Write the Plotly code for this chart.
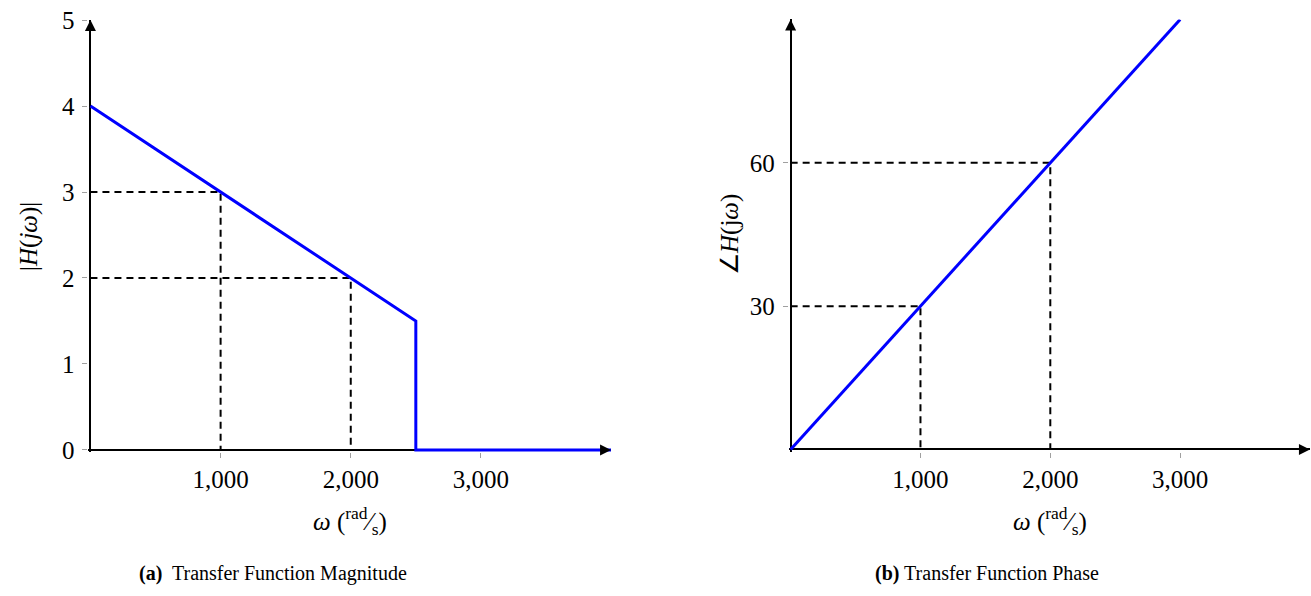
import plotly.graph_objects as go

# ---- data ----
mag_w = [0, 2500, 2500, 4000]
mag_h = [4, 1.5, 0, 0]
mag_guide_w = [1000, 2000]
mag_guide_h = [3, 2]

phase_w = [0, 3000]
phase_deg = [0, 90]
phase_guide_w = [1000, 2000]
phase_guide_deg = [30, 60]

x_range = [-15, 4000]
mag_range = [-0.025, 5]
phase_range = [-0.45, 90]
x_tickvals = [1000, 2000, 3000]
x_ticktext = ["1,000", "2,000", "3,000"]
mag_tickvals = [0, 1, 2, 3, 4, 5]
phase_tickvals = [30, 60]

FONT = "Liberation Serif"
BLUE = "#0000ff"
TICKGRAY = "#a0a0a0"
W, H = 1311, 596

fig = go.Figure()

# guides
dash_line = dict(color="black", width=2, dash="7px,5px")
for w, h in zip(mag_guide_w, mag_guide_h):
    fig.add_trace(go.Scatter(x=[0, w, w], y=[h, h, 0], mode="lines", line=dash_line,
                             xaxis="x", yaxis="y", showlegend=False, hoverinfo="skip"))
for w, d in zip(phase_guide_w, phase_guide_deg):
    fig.add_trace(go.Scatter(x=[0, w, w], y=[d, d, 0], mode="lines", line=dash_line,
                             xaxis="x2", yaxis="y2", showlegend=False, hoverinfo="skip"))

fig.add_trace(go.Scatter(x=mag_w, y=mag_h, mode="lines", line=dict(color=BLUE, width=3),
                         xaxis="x", yaxis="y", showlegend=False))
fig.add_trace(go.Scatter(x=phase_w, y=phase_deg, mode="lines", line=dict(color=BLUE, width=3),
                         xaxis="x2", yaxis="y2", showlegend=False))

# axis-end arrowheads (at the axis range ends)
for xa, ya, yr in (("x", "y", mag_range), ("x2", "y2", phase_range)):
    fig.add_trace(go.Scatter(x=[x_range[1]], y=[0], mode="markers", cliponaxis=False,
                             marker=dict(symbol="arrow-right", size=11, color="black"),
                             xaxis=xa, yaxis=ya, showlegend=False, hoverinfo="skip"))
    fig.add_trace(go.Scatter(x=[0], y=[yr[1]], mode="markers", cliponaxis=False,
                             marker=dict(symbol="arrow-up", size=11, color="black"),
                             xaxis=xa, yaxis=ya, showlegend=False, hoverinfo="skip"))

tickfont = dict(family=FONT, size=25, color="black")
titlefont = dict(family=FONT, size=25, color="black")
base = dict(showline=False, showgrid=False, zeroline=True, zerolinecolor="black",
            zerolinewidth=2, ticks="outside", ticklen=5, tickcolor=TICKGRAY, tickwidth=1,
            tickfont=tickfont, automargin=False, fixedrange=True)
inner = dict(showline=False, showgrid=False, zeroline=False, ticks="inside", ticklen=5,
             tickcolor=TICKGRAY, tickwidth=1, showticklabels=False, automargin=False,
             fixedrange=True)

D_X1 = [0.0675, 0.4661]
D_Y1 = [0.2414, 0.9664]
D_X2 = [0.6016, 0.9992]
D_Y2 = [0.2422, 0.9673]

fig.update_layout(
    width=W, height=H,
    margin=dict(l=0, r=0, t=0, b=0, autoexpand=False),
    paper_bgcolor="white", plot_bgcolor="white",
    xaxis=dict(**base, domain=D_X1, anchor="y", range=x_range,
               tickvals=x_tickvals, ticktext=x_ticktext),
    yaxis=dict(**base, domain=D_Y1, anchor="x", range=mag_range,
               tickvals=mag_tickvals, ticklabelstandoff=3),
    xaxis2=dict(**base, domain=D_X2, anchor="y2", range=x_range,
                tickvals=x_tickvals, ticktext=x_ticktext),
    yaxis2=dict(**base, domain=D_Y2, anchor="x2", range=phase_range,
                tickvals=phase_tickvals, ticklabelstandoff=3),
    # overlay axes giving the inner half of the crossing tick marks
    xaxis3=dict(**inner, overlaying="x", anchor="y", range=x_range, tickvals=x_tickvals),
    yaxis3=dict(**inner, overlaying="y", anchor="x", range=mag_range, tickvals=mag_tickvals),
    xaxis4=dict(**inner, overlaying="x2", anchor="y2", range=x_range, tickvals=x_tickvals),
    yaxis4=dict(**inner, overlaying="y2", anchor="x2", range=phase_range, tickvals=phase_tickvals),
)

# axis titles (as paper annotations)
xtitle = "<i>ω</i> (<sup>rad</sup>⁄<sub>s</sub>)"
for cx, txt in ((350, xtitle), (1050, xtitle)):
    fig.add_annotation(x=cx / W, y=1 - 521 / H, xref="paper", yref="paper", text=txt,
                       showarrow=False, font=titlefont, xanchor="center", yanchor="middle")
fig.add_annotation(x=29 / W, y=1 - 237 / H, xref="paper", yref="paper",
                   text="|<i>H</i>(<i>jω</i>)|", textangle=-90, showarrow=False,
                   font=titlefont, xanchor="center", yanchor="middle")
fig.add_annotation(x=730 / W, y=1 - 235 / H, xref="paper", yref="paper",
                   text="∠<i>H</i>(j<i>ω</i>)", textangle=-90, showarrow=False,
                   font=titlefont, xanchor="center", yanchor="middle")

# captions
cap_font = dict(family=FONT, size=20, color="black")
fig.add_annotation(x=273 / W, y=1 - 573 / H, xref="paper", yref="paper",
                   text="<b>(a)</b>  Transfer Function Magnitude", showarrow=False,
                   font=cap_font, xanchor="center", yanchor="middle")
fig.add_annotation(x=987 / W, y=1 - 573 / H, xref="paper", yref="paper",
                   text="<b>(b)</b> Transfer Function Phase", showarrow=False,
                   font=cap_font, xanchor="center", yanchor="middle")

fig.write_html("out.html", config={"displayModeBar": False},
               post_script="document.body.style.margin='0';")
